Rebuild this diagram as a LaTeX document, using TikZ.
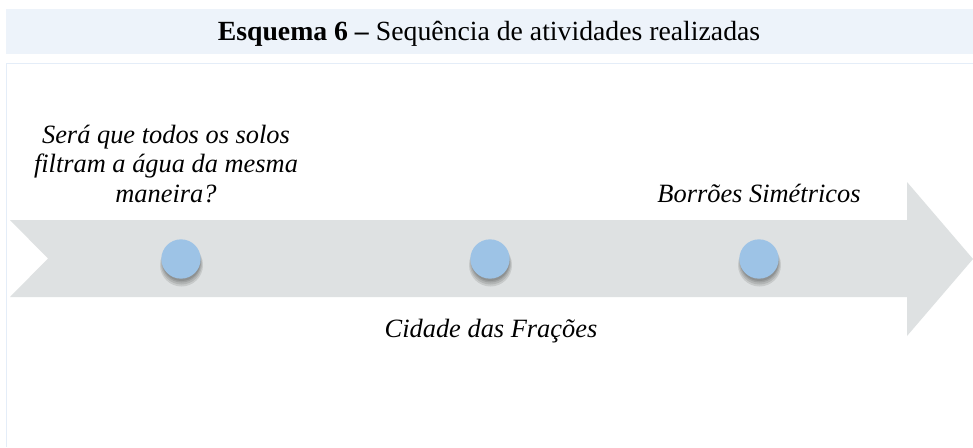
\documentclass[tikz,border=0pt]{standalone}
\usepackage{fontspec}
\setmainfont{Liberation Serif}
\definecolor{bandblue}{HTML}{EDF3FA}
\definecolor{edgeblue}{HTML}{E4EDF8}
\definecolor{arrowgrey}{HTML}{DEE1E2}
\definecolor{dotblue}{HTML}{9DC3E6}
\tikzset{
  lbl/.style={font=\fontsize{19.8}{22.5}\selectfont\itshape, align=center, inner sep=0pt, anchor=base},
  dot/.style={circle, fill=dotblue, minimum size=29.5pt, inner sep=0pt},
}
\newcommand{\softshadow}[2]{%
  \foreach \rr/\dy in {21.5/6,20.5/5,19.5/4,19/3} {\fill[black, opacity=0.1] (#1+0.5,#2+\dy) circle (\rr);}%
}
\begin{document}
\begin{tikzpicture}[x=0.75pt,y=-0.75pt]
\useasboundingbox (0,0) rectangle (973,447);
\fill[white] (0,0) rectangle (973,447);
% title band
\fill[bandblue] (6,9) rectangle (973,54);
\node[inner sep=0pt, anchor=base, font=\fontsize{20.8}{24}\selectfont] (title) at (489,40)
  {\textbf{Esquema 6 –} Sequência de atividades realizadas};
% content frame
\draw[edgeblue, line width=1.2pt] (6.5,447) -- (6.5,63.5) -- (973,63.5);
% arrow
\fill[arrowgrey] (10,220) -- (907,220) -- (907,182) -- (973,259) -- (907,336) -- (907,297)
  -- (10,297) -- (48,258.5) -- cycle;
% soft shadows
\begin{scope}
\clip (0,225) rectangle (973,300);
\softshadow{181}{259}
\softshadow{490}{259}
\softshadow{759}{259}
\end{scope}
% dots
\node[dot] (d1) at (181,259) {};
\node[dot] (d2) at (490,259) {};
\node[dot] (d3) at (759,259) {};
% labels
\node[lbl] (q1) at (166,143) {Será que todos os solos};
\node[lbl] (q2) at (166,172.5) {filtram a água da mesma};
\node[lbl] (q3) at (166,202) {maneira?};
\node[lbl] (b) at (759,202) {Borrões Simétricos};
\node[lbl] (c) at (491,337) {Cidade das Frações};
\end{tikzpicture}
\end{document}
